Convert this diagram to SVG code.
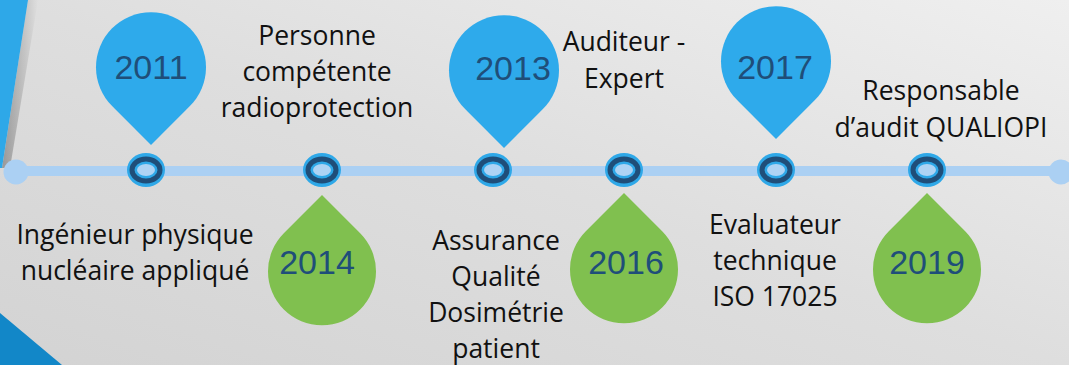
<svg xmlns="http://www.w3.org/2000/svg" width="1069" height="365" viewBox="0 0 1069 365">
<defs>
<linearGradient id="bg" x1="0" y1="1" x2="1" y2="0">
<stop offset="0" stop-color="#d3d3d3"/>
<stop offset="0.5" stop-color="#dedede"/>
<stop offset="1" stop-color="#efefef"/>
</linearGradient>
<linearGradient id="shadow" x1="0" y1="0" x2="1" y2="0">
<stop offset="0" stop-color="#000" stop-opacity="0.3"/>
<stop offset="1" stop-color="#000" stop-opacity="0"/>
</linearGradient>
<path id="pinUp" d="M0 0 L-38.9 -38.9 A55 55 0 1 1 38.9 -38.9 Z"/>
<path id="pinDown" d="M0 0 L-38.2 38.2 A54 54 0 1 0 38.2 38.2 Z"/>
<g id="ringShape">
<ellipse cx="0" cy="0" rx="19" ry="17" fill="#2ea8e8"/>
<ellipse cx="0" cy="0" rx="14" ry="11" fill="none" stroke="#1f4e79" stroke-width="5"/>
<ellipse cx="0" cy="0" rx="9" ry="6" fill="#aed3f4"/>
</g>
</defs>
<style>
.lbl{font-family:"Open Sans","Liberation Sans",Arial,sans-serif;font-size:26.5px;fill:#111;text-anchor:middle}
.yr{font-family:"Liberation Sans",Arial,sans-serif;font-size:34px;fill:#1f4e79;text-anchor:middle}
.blue{fill:#2eaaeb}
.green{fill:#80c04f}
</style>
<rect width="1069" height="365" fill="url(#bg)"/>
<polygon points="28,0 38,0 10,168 2,168" fill="url(#shadow)"/>
<polygon points="0,0 28,0 2,168 0,168" fill="#2ea8e8"/>
<polygon points="0,313 62,365 0,365" fill="#1287c8"/>

<g id="connectors">
<line x1="16" y1="171" x2="1061" y2="171" stroke="#abd0f3" stroke-width="10"/>
<circle cx="16" cy="172" r="12.5" fill="#abd0f3"/>
<circle cx="1061" cy="172" r="12.5" fill="#abd0f3"/>
</g>

<g id="ring-2011"><use href="#ringShape" x="146" y="170"/></g>
<g id="ring-2014"><use href="#ringShape" x="322" y="170"/></g>
<g id="ring-2013"><use href="#ringShape" x="493" y="170"/></g>
<g id="ring-2016"><use href="#ringShape" x="624" y="170"/></g>
<g id="ring-2017"><use href="#ringShape" x="776" y="170"/></g>
<g id="ring-2019"><use href="#ringShape" x="927" y="170"/></g>

<g id="pin-2011"><use href="#pinUp" x="151" y="145" class="blue"/><text class="yr" x="151" y="79">2011</text></g>
<g id="pin-2013"><use href="#pinUp" x="504" y="148" class="blue"/><text class="yr" x="513" y="80">2013</text></g>
<g id="pin-2017"><use href="#pinUp" x="776" y="139" class="blue"/><text class="yr" x="775" y="79">2017</text></g>
<g id="pin-2014"><use href="#pinDown" x="322" y="195" class="green"/><text class="yr" x="317" y="274">2014</text></g>
<g id="pin-2016"><use href="#pinDown" x="624" y="193" class="green"/><text class="yr" x="626" y="274">2016</text></g>
<g id="pin-2019"><use href="#pinDown" x="927" y="193" class="green"/><text class="yr" x="927" y="274">2019</text></g>

<g id="label-2011"><text class="lbl" x="135" y="244">Ingénieur physique</text><text class="lbl" x="135" y="280">nucléaire appliqué</text></g>
<g id="label-2014"><text class="lbl" x="317" y="45">Personne</text><text class="lbl" x="317" y="81">compétente</text><text class="lbl" x="317" y="117">radioprotection</text></g>
<g id="label-2013"><text class="lbl" x="496" y="250">Assurance</text><text class="lbl" x="496" y="286">Qualité</text><text class="lbl" x="496" y="322">Dosimétrie</text><text class="lbl" x="496" y="358">patient</text></g>
<g id="label-2016"><text class="lbl" x="624" y="51">Auditeur -</text><text class="lbl" x="624" y="88">Expert</text></g>
<g id="label-2017"><text class="lbl" x="775" y="234">Evaluateur</text><text class="lbl" x="775" y="270">technique</text><text class="lbl" x="775" y="306">ISO 17025</text></g>
<g id="label-2019"><text class="lbl" x="941" y="100">Responsable</text><text class="lbl" x="941" y="137">d’audit QUALIOPI</text></g>
</svg>
